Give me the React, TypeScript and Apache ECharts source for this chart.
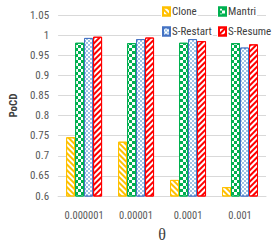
import React, { useEffect, useRef } from "react";
import * as echarts from "echarts";

const categories = ["0.000001", "0.00001", "0.0001", "0.001"];
const seriesNames = ["Clone", "Mantri", "S-Restart", "S-Resume"];
const cloneValues = [0.746, 0.735, 0.64, 0.622];
const mantriValues = [0.981, 0.98, 0.981, 0.98];
const sRestartValues = [0.993, 0.99, 0.99, 0.969];
const sResumeValues = [0.996, 0.994, 0.985, 0.977];
const yTicks = { min: 0.6, max: 1.05, interval: 0.05 };

const FONT = "'Roboto Condensed', 'Liberation Sans', Arial, sans-serif";

export default function App() {
  const ref = useRef<HTMLDivElement>(null);
  useEffect(() => {
    if (!ref.current) return;
    const chart = echarts.init(ref.current, undefined, { renderer: "svg" });
    const mk = (name: string, data: number[], color: string, fill: string, decal: any) => ({
      name,
      type: "bar",
      data,
      barWidth: 9,
      barGap: "0%",
      itemStyle: { color: fill, borderColor: color, borderWidth: 1, decal },
    });
    const legendItem = (name: string, left: number, top: number) => ({
      data: [name],
      left,
      top,
      itemWidth: 7,
      itemHeight: 8,
      icon: "rect",
      backgroundColor: "#fff",
      padding: [1, 1, 1, 1],
      textStyle: { fontFamily: FONT, fontSize: 11, color: "#404040", padding: [0, 0, 0, -3] },
    });
    chart.setOption({
      animation: false,
      backgroundColor: "#fff",
      grid: { left: 42, right: 8, top: 15, bottom: 53 },
      legend: [
        legendItem(seriesNames[0], 161, 5),
        legendItem(seriesNames[1], 217, 5),
        legendItem(seriesNames[2], 161, 25),
        legendItem(seriesNames[3], 217, 25),
      ],
      xAxis: {
        type: "category",
        data: categories,
        axisTick: { show: false },
        axisLine: { show: true, lineStyle: { color: "#d9d9d9" } },
        axisLabel: { interval: 0, fontFamily: FONT, fontSize: 10.5, color: "#595959", margin: 14 },
        name: "θ",
        nameLocation: "middle",
        nameGap: 30,
        nameTextStyle: { fontFamily: "'Liberation Serif', serif", fontSize: 16, color: "#404040" },
      },
      yAxis: {
        type: "value",
        min: yTicks.min,
        max: yTicks.max,
        interval: yTicks.interval,
        axisLine: { show: false },
        axisTick: { show: false },
        splitLine: { lineStyle: { color: "#d9d9d9" } },
        axisLabel: {
          fontFamily: FONT,
          fontSize: 11,
          color: "#595959",
          margin: 9,
          formatter: (v: number) => String(parseFloat(v.toFixed(2))),
        },
        name: "PoCD",
        nameLocation: "middle",
        nameRotate: 90,
        nameGap: 31,
        nameTextStyle: { fontFamily: FONT, fontSize: 11, fontWeight: "bold", color: "#404040" },
      },
      series: [
        mk(seriesNames[0], cloneValues, "#ffc000", "#ffffff", {
          color: "#ffc000",
          symbol: "rect",
          dashArrayX: [1, 0],
          dashArrayY: [2, 2],
          rotation: Math.PI / 4,
        }),
        mk(seriesNames[1], mantriValues, "#00b050", "#ffffff", {
          color: "#00b050",
          symbol: "rect",
          symbolSize: 1,
          dashArrayX: [[3, 3], [0, 3, 3, 0]],
          dashArrayY: [3, 0],
          rotation: 0,
        }),
        mk(seriesNames[2], sRestartValues, "#4472c4", "#9dc3e6", {
          color: "#ffffff",
          symbol: "rect",
          symbolSize: 1,
          dashArrayX: [[2, 2], [0, 2, 2, 0]],
          dashArrayY: [2, 0],
          rotation: 0,
        }),
        mk(seriesNames[3], sResumeValues, "#ff0000", "#ffffff", {
          color: "#ff0000",
          symbol: "rect",
          dashArrayX: [1, 0],
          dashArrayY: [2, 2],
          rotation: -Math.PI / 4,
        }),
      ],
    });
    return () => chart.dispose();
  }, []);
  return <div ref={ref} style={{ width: 274, height: 249, position: "absolute", left: 0, top: 0 }} />;
}
